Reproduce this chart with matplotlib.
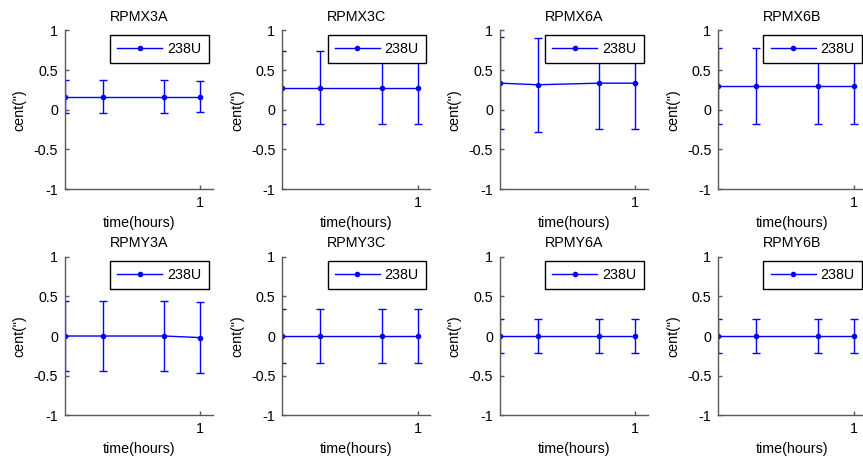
import numpy as np
import matplotlib
matplotlib.use('Agg')
from matplotlib import pyplot as plt

plt.rcParams['font.family'] = ['Liberation Sans', 'DejaVu Sans']
plt.rcParams['font.size'] = 10

# ------------------------------------------------------------------------------
# Data
# ------------------------------------------------------------------------------
timeHours = [0.0, 0.28, 0.735, 1.0]
seriesName = '238U'

titles = ['RPMX3A', 'RPMX3C', 'RPMX6A', 'RPMX6B',
          'RPMY3A', 'RPMY3C', 'RPMY6A', 'RPMY6B']

centX3A = [0.165, 0.165, 0.165, 0.165]
errX3A = [0.21, 0.21, 0.21, 0.20]
centX3C = [0.275, 0.275, 0.275, 0.275]
errX3C = [0.46, 0.46, 0.46, 0.46]
centX6A = [0.335, 0.315, 0.335, 0.335]
errX6A = [0.58, 0.59, 0.575, 0.575]
centX6B = [0.30, 0.30, 0.30, 0.30]
errX6B = [0.48, 0.48, 0.48, 0.48]
centY3A = [0.0, 0.0, 0.0, -0.02]
errY3A = [0.445, 0.445, 0.445, 0.45]
centY3C = [0.0, 0.0, 0.0, 0.0]
errY3C = [0.34, 0.34, 0.34, 0.34]
centY6A = [0.0, 0.0, 0.0, 0.0]
errY6A = [0.21, 0.21, 0.21, 0.21]
centY6B = [0.0, 0.0, 0.0, 0.0]
errY6B = [0.22, 0.22, 0.22, 0.22]

centAll = [centX3A, centX3C, centX6A, centX6B, centY3A, centY3C, centY6A, centY6B]
errAll = [errX3A, errX3C, errX6A, errX6B, errY3A, errY3C, errY6A, errY6B]

yTicks = [-1, -0.5, 0, 0.5, 1]
yTickLabels = ['-1', '-0.5', '0', '0.5', '1']

# ------------------------------------------------------------------------------
# Layout (figure fractions)
# ------------------------------------------------------------------------------
lefts = [0.0753, 0.3271, 0.5794, 0.8323]
bottoms = [0.5882, 0.0952]
axW = 0.1715
axH = 0.3455
axisCol = '0.35'
fs = 10.3

fig = plt.figure(figsize=(8.63, 4.59), dpi=100)

for i in range(8):
    row = i // 4
    col = i % 4
    ax = fig.add_axes([lefts[col], bottoms[row], axW, axH])
    ax.errorbar(timeHours, centAll[i], yerr=errAll[i], color='blue', lw=1,
                fmt='none', capsize=3, elinewidth=1, capthick=1)
    ax.plot(timeHours, centAll[i], color='blue', lw=1, marker='.', ms=6,
            label=seriesName)
    ax.set_xlim(0, 1.094)
    ax.set_ylim(-1, 1)
    ax.set_xticks([1])
    ax.set_xticklabels(['1'])
    ax.set_yticks(yTicks)
    ax.set_yticklabels(yTickLabels)
    for s in ['top', 'right']:
        ax.spines[s].set_visible(False)
    for s in ['left', 'bottom']:
        ax.spines[s].set_color(axisCol)
        ax.spines[s].set_linewidth(1)
    ax.tick_params(direction='in', length=3, width=1, color=axisCol, pad=5,
                   labelsize=fs)
    ax.set_title(titles[i], pad=7, fontsize=fs)
    ax.set_xlabel('time(hours)', labelpad=4, fontsize=fs)
    ax.set_ylabel('cent(")', labelpad=5, fontsize=fs)
    leg = ax.legend(loc='upper right', fancybox=False, framealpha=1,
                    edgecolor='black', borderaxespad=0.3, borderpad=0.5,
                    handlelength=3.15, handletextpad=0.35, fontsize=fs)
    leg.get_frame().set_linewidth(1)

fig.savefig('out.png', dpi=100)
